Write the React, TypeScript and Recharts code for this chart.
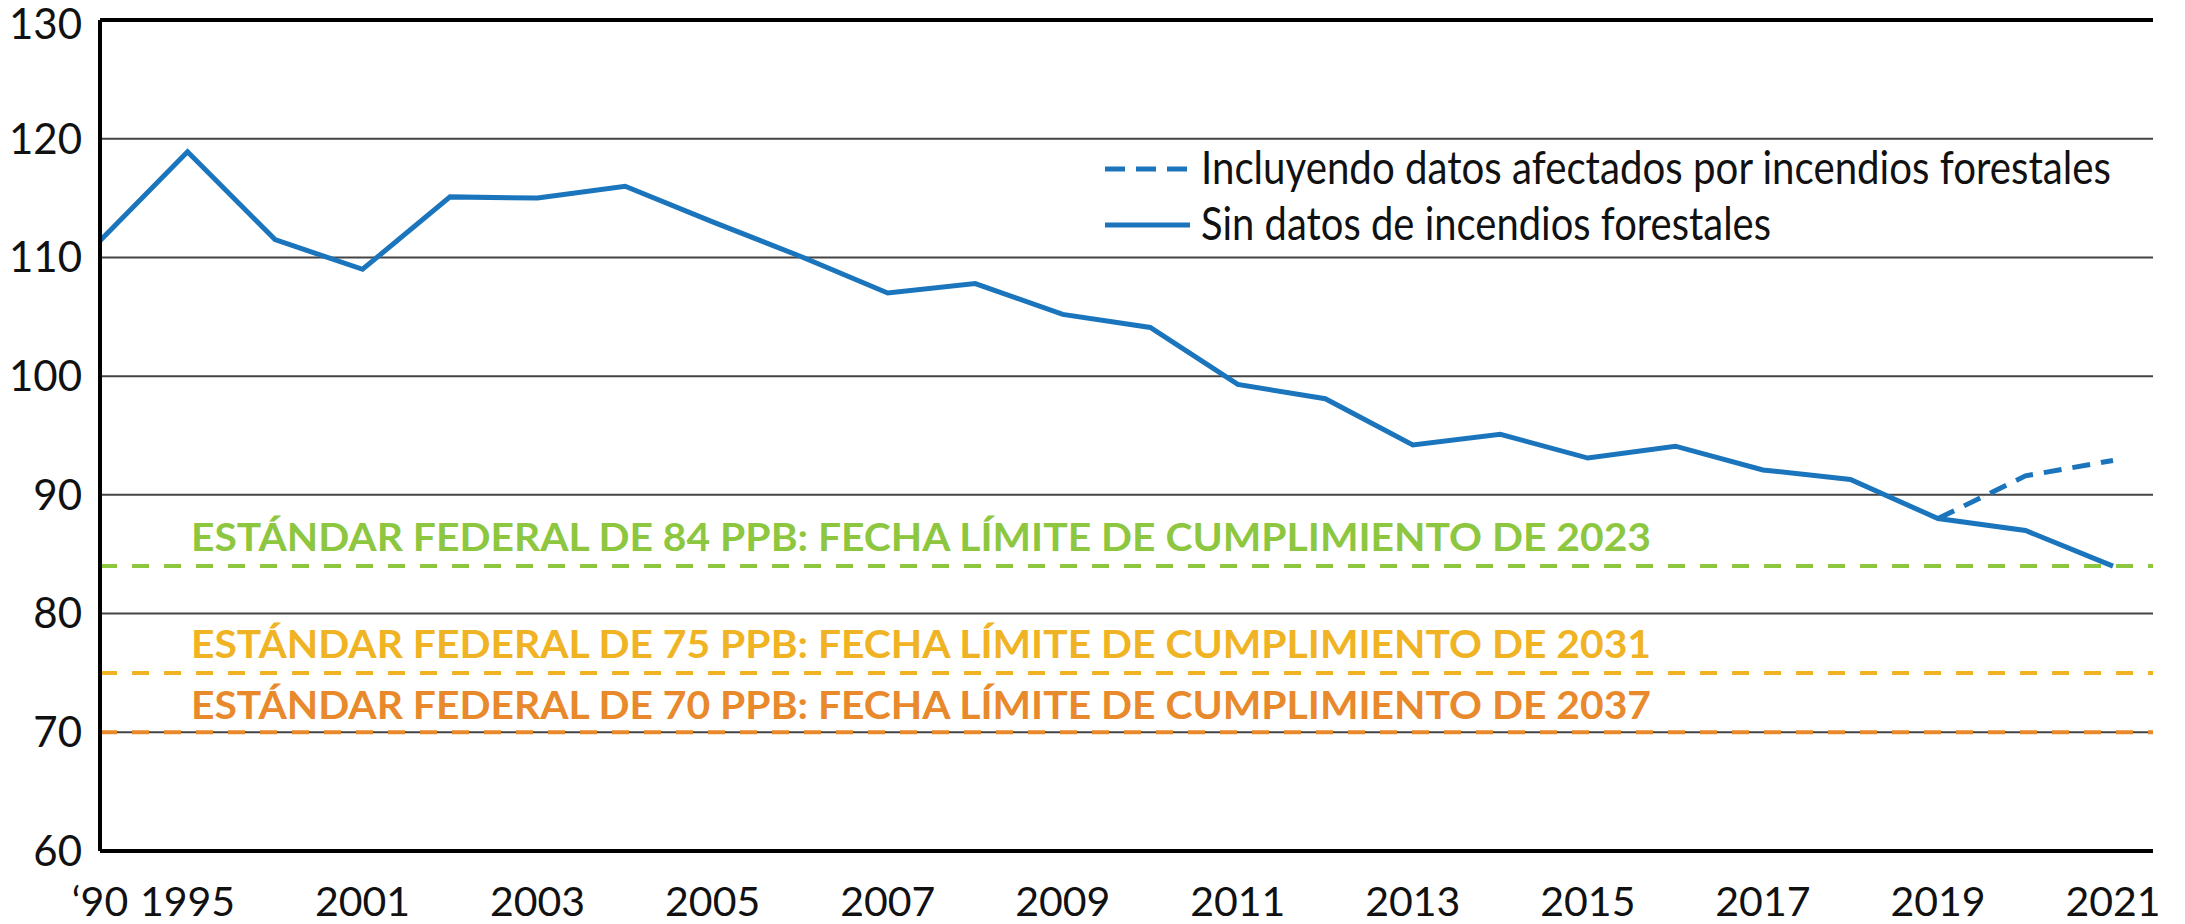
import React from "react";
import {
  LineChart,
  Line,
  XAxis,
  YAxis,
  CartesianGrid,
  ReferenceLine,
  Legend,
} from "recharts";

const years = [
  "‘90", "1995", "2000", "2001", "2002", "2003", "2004", "2005", "2006", "2007",
  "2008", "2009", "2010", "2011", "2012", "2013", "2014", "2015", "2016", "2017",
  "2018", "2019", "2020", "2021",
];

const sinIncendios = [
  111.4, 118.9, 111.5, 109.0, 115.1, 115.0, 116.0, 113.0, 110.1, 107.0,
  107.8, 105.2, 104.1, 99.3, 98.1, 94.2, 95.1, 93.1, 94.1, 92.1,
  91.3, 88.0, 87.0, 84.0,
];

const conIncendios: (number | null)[] = [
  null, null, null, null, null, null, null, null, null, null,
  null, null, null, null, null, null, null, null, null, null,
  null, 88.0, 91.6, 92.9,
];

const shownTicks = [
  "‘90", "1995", "2001", "2003", "2005", "2007", "2009", "2011", "2013",
  "2015", "2017", "2019", "2021",
];

const yTicks = [60, 70, 80, 90, 100, 110, 120, 130];

const standards = [
  { value: 84, color: "#8dc63f", text: "ESTÁNDAR FEDERAL DE 84 PPB: FECHA LÍMITE DE CUMPLIMIENTO DE 2023", dy: -15 },
  { value: 75, color: "#f0b323", text: "ESTÁNDAR FEDERAL DE 75 PPB: FECHA LÍMITE DE CUMPLIMIENTO DE 2031", dy: -15 },
  { value: 70, color: "#e8892b", text: "ESTÁNDAR FEDERAL DE 70 PPB: FECHA LÍMITE DE CUMPLIMIENTO DE 2037", dy: -13 },
];

const data = years.map((year, i) => ({
  year,
  sin: sinIncendios[i],
  con: conIncendios[i],
}));

const BLUE = "#1b75bc";
const FONT = "Lato, 'Open Sans', sans-serif";

function StandardLabel({ viewBox, text, color, dy }: any) {
  if (!viewBox) return null;
  return (
    <text
      x={viewBox.x + 91}
      y={viewBox.y + dy}
      fill={color}
      fontFamily={FONT}
      fontWeight={700}
      fontSize={38}
      textLength={1460}
      lengthAdjust="spacingAndGlyphs"
    >
      {text}
    </text>
  );
}

function LegendContent({ payload }: any) {
  const items = payload ?? [];
  const widths: Record<string, number> = { con: 910, sin: 570 };
  return (
    <svg width={1060} height={140} style={{ display: "block", overflow: "visible" }}>
      {items.map((entry: any, i: number) => {
        const y = 45 + i * 56;
        const dashed = entry.dataKey === "con";
        return (
          <g key={entry.dataKey}>
            <line
              x1={0}
              x2={85}
              y1={y}
              y2={y}
              stroke={entry.color}
              strokeWidth={5}
              strokeDasharray={dashed ? "20 11" : undefined}
            />
            <text
              x={96}
              y={y + 15}
              fontFamily={FONT}
              fontSize={46}
              fill="#111"
              textLength={widths[entry.dataKey]}
              lengthAdjust="spacingAndGlyphs"
            >
              {entry.value}
            </text>
          </g>
        );
      })}
    </svg>
  );
}

export default function App() {
  return (
    <div style={{ margin: "-8px", width: 2185, height: 924 }}>
      <LineChart
        width={2185}
        height={924}
        data={data}
        margin={{ top: 20, right: 32, bottom: 0, left: 0 }}
      >
        <CartesianGrid horizontal vertical={false} stroke="#444" strokeWidth={2} />
        <XAxis
          dataKey="year"
          height={73}
          padding={{ left: 0, right: 40 }}
          interval={0}
          tickFormatter={(v: string) => (shownTicks.includes(v) ? v : "")}
          tick={{ fill: "#111", fontSize: 41, fontFamily: FONT }}
          tickLine={false}
          tickSize={0}
          tickMargin={36}
          axisLine={{ stroke: "#000", strokeWidth: 4 }}
        />
        <YAxis
          domain={[60, 130]}
          ticks={yTicks}
          width={100}
          tick={{ fill: "#111", fontSize: 42, fontFamily: FONT }}
          tickLine={false}
          tickSize={0}
          tickMargin={18}
          axisLine={{ stroke: "#000", strokeWidth: 4 }}
        />
        <ReferenceLine y={130} stroke="#000" strokeWidth={4} />
        {standards.map((s) => (
          <ReferenceLine
            key={s.value}
            y={s.value}
            stroke={s.color}
            strokeWidth={4}
            strokeDasharray="17 15"
            label={(props: any) => (
              <StandardLabel {...props} text={s.text} color={s.color} dy={s.dy} />
            )}
          />
        ))}
        <Legend
          layout="horizontal"
          verticalAlign="middle"
          align="center"
          wrapperStyle={{ left: 1105, top: 124, width: 1060, height: 140 }}
          content={<LegendContent />}
        />
        <Line
          dataKey="con"
          name="Incluyendo datos afectados por incendios forestales"
          stroke={BLUE}
          strokeWidth={5}
          strokeDasharray="18 11"
          dot={false}
          activeDot={false}
          connectNulls={false}
          isAnimationActive={false}
        />
        <Line
          dataKey="sin"
          name="Sin datos de incendios forestales"
          stroke={BLUE}
          strokeWidth={5}
          dot={false}
          activeDot={false}
          isAnimationActive={false}
        />
      </LineChart>
    </div>
  );
}
